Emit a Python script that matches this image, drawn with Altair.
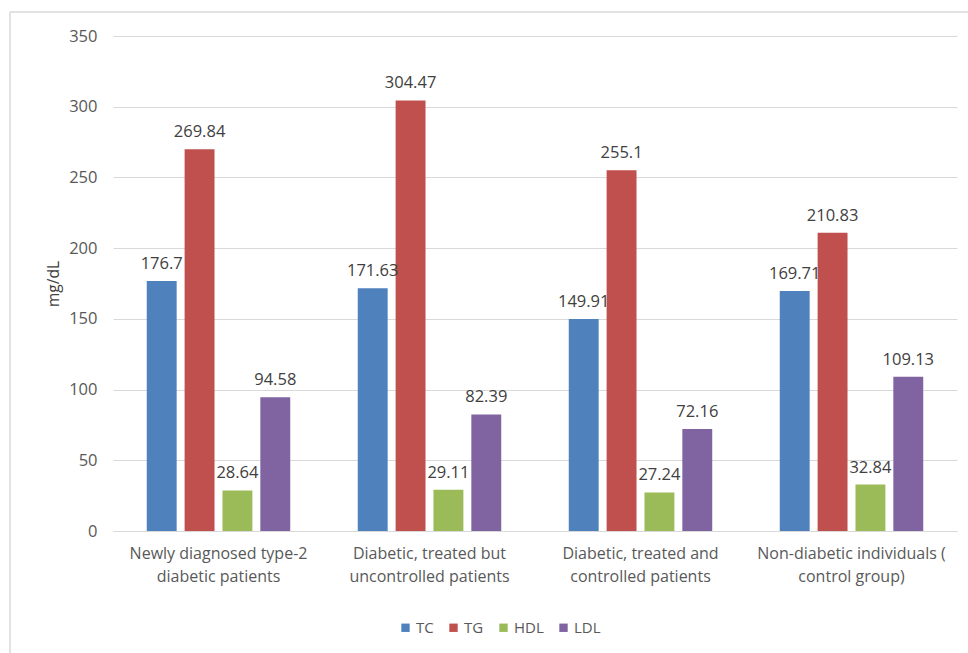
import altair as alt
import pandas as pd

groups = [
    "Newly diagnosed type-2 diabetic patients",
    "Diabetic, treated but uncontrolled patients",
    "Diabetic, treated and controlled patients",
    "Non-diabetic individuals ( control group)",
]
group_lines = [
    ["Newly diagnosed type-2", "diabetic patients"],
    ["Diabetic, treated but", "uncontrolled patients"],
    ["Diabetic, treated and", "controlled patients"],
    ["Non-diabetic individuals (", "control group)"],
]
series = ["TC", "TG", "HDL", "LDL"]
tc = [176.7, 171.63, 149.91, 169.71]
tg = [269.84, 304.47, 255.1, 210.83]
hdl = [28.64, 29.11, 27.24, 32.84]
ldl = [94.58, 82.39, 72.16, 109.13]
colors = ["#4F81BD", "#C0504D", "#9BBB59", "#8064A2"]
y_ticks = [0, 50, 100, 150, 200, 250, 300, 350]

rows = []
for s, vals in zip(series, [tc, tg, hdl, ldl]):
    for g, v in zip(groups, vals):
        rows.append({"group": g, "series": s, "value": v})
df = pd.DataFrame(rows)

# label expression for two-line category labels
expr = "''"
for g, lines in reversed(list(zip(groups, group_lines))):
    expr = f"datum.label == '{g}' ? ['{lines[0]}', '{lines[1]}'] : ({expr})"

FONT = "Open Sans"
TXT = "#595959"

x_enc = alt.X(
    "group:N",
    sort=groups,
    scale=alt.Scale(paddingInner=0.32, paddingOuter=0.16),
    axis=alt.Axis(
        title=None, labelAngle=0, labelExpr=expr, ticks=False,
        domainColor="#D9D9D9", labelFontSize=16, labelColor=TXT,
        labelFont=FONT, labelPadding=14, labelLineHeight=23, labelLimit=300,
    ),
)
xoff = alt.XOffset("series:N", sort=series,
                   scale=alt.Scale(paddingInner=0.21, paddingOuter=0))

base = alt.Chart(df).encode(x=x_enc, xOffset=xoff)

bars = base.mark_bar().encode(
    y=alt.Y(
        "value:Q",
        scale=alt.Scale(domain=[0, 350], nice=False),
        axis=alt.Axis(
            values=y_ticks, title="mg/dL", ticks=False, domain=False,
            gridColor="#D9D9D9", labelFontSize=16.5, labelColor=TXT,
            labelFont=FONT, labelPadding=16, titleFont=FONT,
            titleFontSize=15.5, titleFontWeight="normal", titleColor="#404040",
            titlePadding=7,
        ),
    ),
    color=alt.Color(
        "series:N", sort=series,
        scale=alt.Scale(domain=series, range=colors),
        legend=alt.Legend(
            title=None, orient="none", direction="horizontal",
            legendX=285, legendY=584, symbolType="square", symbolSize=70,
            symbolStrokeWidth=0, labelFontSize=15, labelColor=TXT,
            labelFont=FONT, columnPadding=12, labelOffset=3,
        ),
    ),
)

labels = base.mark_text(
    baseline="bottom", dy=-9, fontSize=16.5, font=FONT, color="#404040"
).encode(
    y=alt.Y("value:Q"),
    text=alt.Text("value:Q"),
)

border_df = pd.DataFrame({"k": [0]})
top_border = alt.Chart(border_df).mark_rule(color="#D9D9D9", strokeWidth=1.5).encode(
    x=alt.value(-103), x2=alt.value(900), y=alt.value(-24)
)
left_border = alt.Chart(border_df).mark_rule(color="#D9D9D9", strokeWidth=1.5).encode(
    x=alt.value(-103), y=alt.value(-24), y2=alt.value(640)
)

chart = alt.layer(bars, labels, top_border, left_border).properties(
    width=844,
    height=495,
    autosize=alt.AutoSizeParams(type="none"),
    padding={"left": 113, "top": 36, "right": 11, "bottom": 122},
    background="white",
).configure_view(stroke=None)

chart.save("out.html", embed_options={"renderer": "svg", "actions": False})
